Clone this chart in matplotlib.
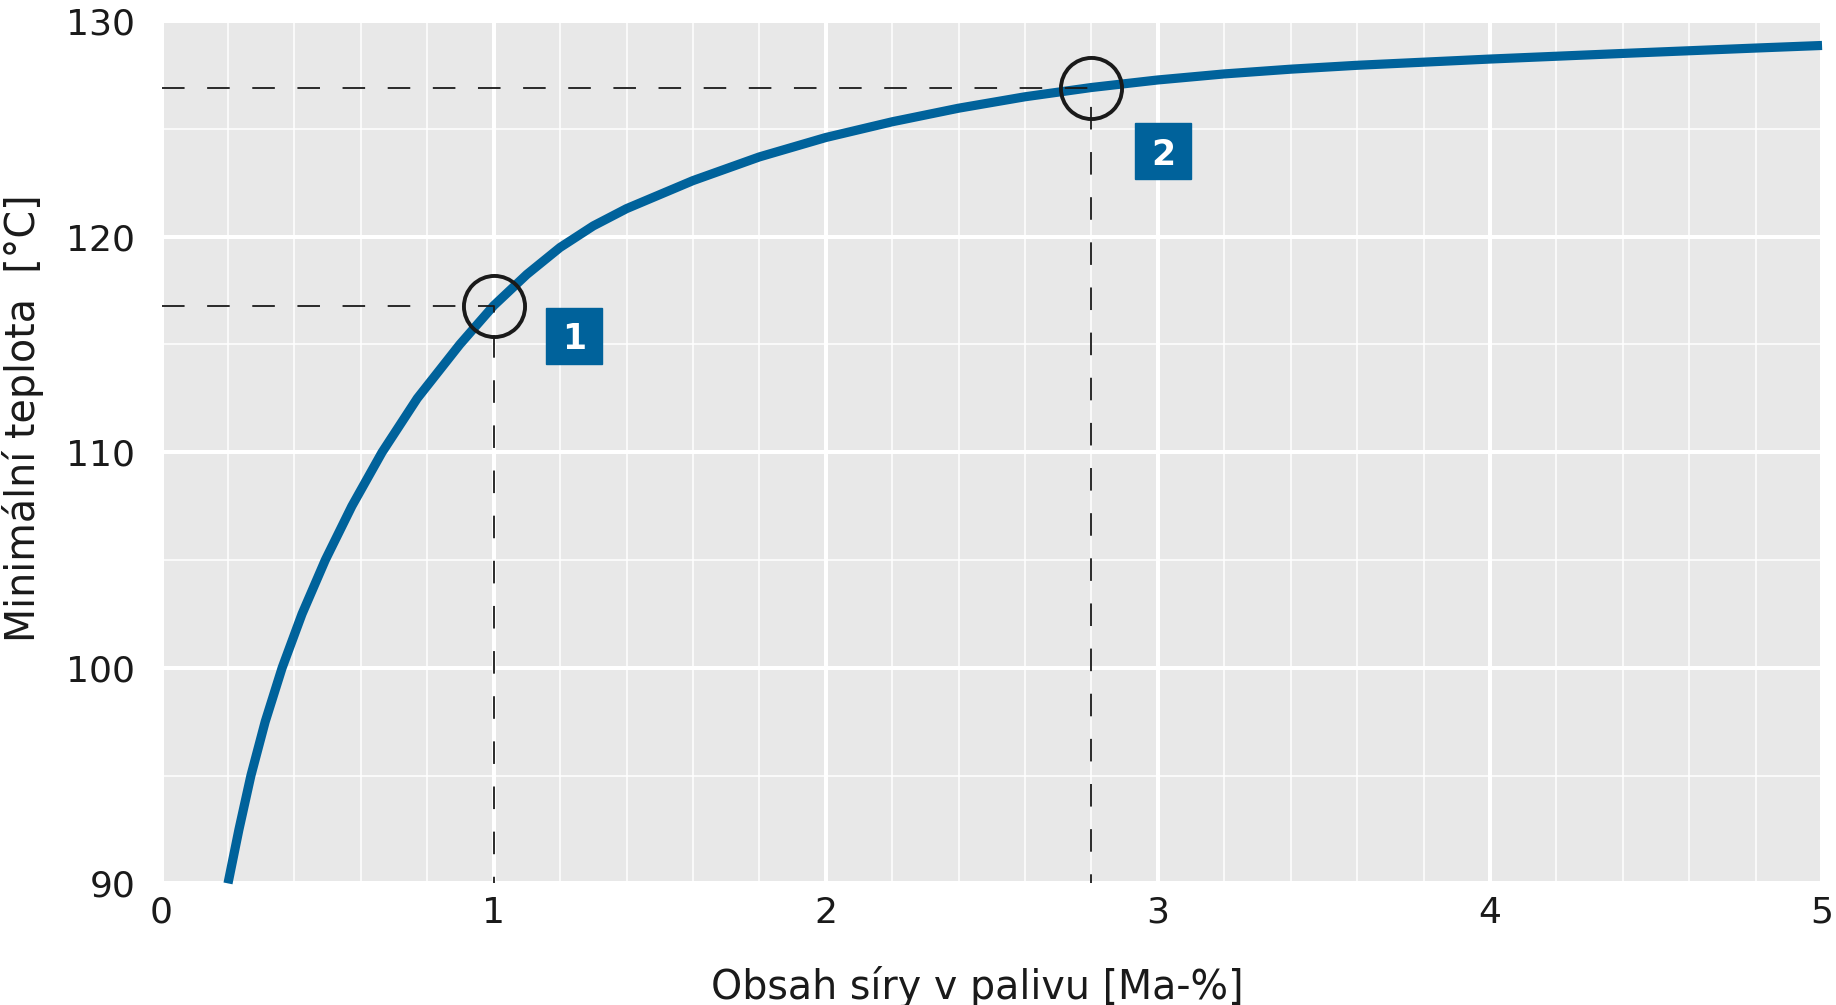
import matplotlib
matplotlib.use("Agg")
import matplotlib.pyplot as plt
from matplotlib.ticker import MultipleLocator

plt.rcParams['font.family'] = ['DejaVu Sans']

# krivka
sira = [0.2, 0.233, 0.269, 0.312, 0.363, 0.423, 0.493, 0.573, 0.664, 0.77, 0.898, 1.0,
        1.1, 1.2, 1.3, 1.4, 1.6, 1.8, 2.0, 2.2, 2.4, 2.6, 2.8, 3.0, 3.2, 3.4, 3.6, 4.0,
        4.4, 4.8, 5.0]
teplota = [90.0, 92.5, 95.0, 97.5, 100.0, 102.5, 105.0, 107.5, 110.0, 112.5, 115.0, 116.8,
           118.25, 119.5, 120.5, 121.3, 122.6, 123.7, 124.6, 125.33, 125.96, 126.49, 126.92,
           127.27, 127.55, 127.77, 127.95, 128.24, 128.5, 128.75, 128.87]

# vyznacene body
body_x = [1.0, 2.8]
body_y = [116.8, 126.9]
body_txt = ['1', '2']
stitek_x = [1.242, 3.016]
stitek_y = [115.4, 123.97]

xticks = [0, 1, 2, 3, 4, 5]
yticks = [90, 100, 110, 120, 130]

blue = '#00629b'
dark = '#1a1a1a'

fig = plt.figure(figsize=(18.36, 10.05), dpi=100)
ax = fig.add_axes([0.088, 0.121, 0.9044, 0.858])
ax.set_facecolor('#e8e8e8')
ax.set_xlim(0, 5)
ax.set_ylim(90, 130)
ax.set_xticks(xticks)
ax.set_yticks(yticks)
ax.xaxis.set_minor_locator(MultipleLocator(0.2))
ax.yaxis.set_minor_locator(MultipleLocator(5))
ax.grid(which='major', color='white', lw=2.9)
ax.grid(which='minor', color='white', lw=1.1)
ax.set_axisbelow(True)
for s in ax.spines.values():
    s.set_visible(False)
ax.tick_params(which='both', length=0)
ax.tick_params(axis='x', labelsize=26, pad=9, colors=dark)
ax.tick_params(axis='y', labelsize=26, pad=19, colors=dark)

ax.plot(sira, teplota, color=blue, lw=6.6, solid_capstyle='butt', solid_joinstyle='round',
        zorder=3, clip_on=False)

for x, y in zip(body_x, body_y):
    ax.plot([0, x, x], [y, y, 90], color=dark, lw=1.3, dashes=(12.5, 12.5), zorder=4)
    ax.plot(x, y, 'o', ms=44, mfc='none', mec=dark, mew=2.8, zorder=5)

for x, y, t in zip(stitek_x, stitek_y, body_txt):
    ax.plot(x, y, 's', ms=41, color=blue, zorder=5)
    ax.text(x, y, t, color='white', fontsize=25, fontweight='bold',
            ha='center', va='center_baseline', zorder=6)

ax.set_xlabel('Obsah síry v palivu [Ma-%]', fontsize=28.5, color=dark, labelpad=26)
ax.xaxis.label.set_x(0.491)
ax.set_ylabel('Minimální teplota  [°C]', fontsize=28.5, color=dark)
ax.yaxis.set_label_coords(-0.071, 0.54)

fig.savefig('out.png', dpi=100)
